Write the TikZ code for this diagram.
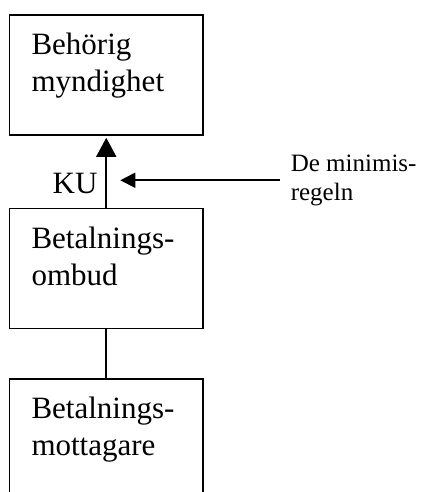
\documentclass[tikz,border=0pt]{standalone}
\usepackage{fontspec}
\setmainfont{Liberation Serif}
\usetikzlibrary{arrows.meta,positioning}

\begin{document}
\begin{tikzpicture}[x=1pt,y=1pt,line width=1.6pt,node distance=72pt]
  \tikzstyle{box}=[draw,rectangle,minimum width=193.5pt,minimum height=120pt,inner sep=0pt]
  \tikzstyle{boxtext}=[anchor=north west,align=left,inner sep=0pt,font=\fontsize{31}{37}\selectfont]
  \tikzstyle{note}=[anchor=north west,align=left,inner xsep=10pt,inner ysep=0pt,font=\fontsize{25}{29}\selectfont]

  \clip (0,0) rectangle (432,-492);

  \node[box] (A) at (106.25,-75) {};
  \node[box] (B) [below=72pt of A] {};
  \node[box] (C) [below=49pt of B] {};

  \node[boxtext] (At) at ([shift={(22,-18)}]A.north west) {Behörig\\myndighet};
  \node[boxtext] (Bt) at ([shift={(22,-18)}]B.north west) {Betalnings-\\ombud};
  \node[boxtext] (Ct) at ([shift={(22,-18)}]C.north west) {Betalnings-\\mottagare};

  \node[note] (rule) at (280,-154) {De minimis-\\regeln};
  \coordinate (hit) at ([xshift=14pt]B.north);

  \draw[-{Triangle[width=20pt,length=19pt]},shorten >=2pt] (B) -- node[pos=0.333,left,inner xsep=8pt,inner ysep=0pt,font=\fontsize{31}{37}\selectfont] (ku) {KU} (A);
  \draw[-{Triangle[width=15pt,length=15pt]}] (rule.west) -- (rule.west -| hit);
  \draw (B) -- (C);
\end{tikzpicture}
\end{document}
